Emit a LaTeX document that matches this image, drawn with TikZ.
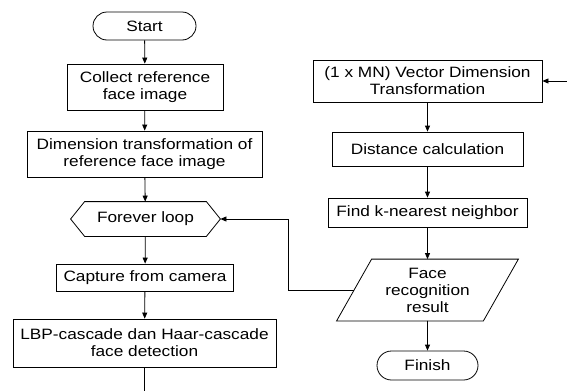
\documentclass[tikz,border=0pt]{standalone}
\usepackage{fontspec}
\setmainfont{Liberation Sans}[FakeStretch=1.15]
\usetikzlibrary{shapes.misc,arrows.meta}
\begin{document}
\begin{tikzpicture}[x=1pt,y=-1pt,
  every node/.style={font=\fontsize{15}{17}\selectfont, align=center, inner sep=0pt, line width=0.8pt},
  box/.style={draw, rectangle},
  term/.style={draw, rounded rectangle},
  plain/.style={rectangle},
  arr/.style={line width=0.8pt, -{Triangle[length=6pt,width=5pt]}},
  ln/.style={line width=0.8pt}]
\useasboundingbox (0,0) rectangle (567,391);
% left column
\node[term, minimum width=103pt, minimum height=28pt] (start) at (144.5,26) {Start};
\node[box, minimum width=156pt, minimum height=46pt] (collect) at (145,87) {Collect reference\\face image};
\node[box, minimum width=235pt, minimum height=46pt] (dim) at (144.5,154) {Dimension transformation of\\reference face image};
\node[plain, minimum width=149pt, minimum height=34pt] (loop) at (145.5,219) {Forever loop};
\draw[ln] (loop.west) -- ([xshift=14pt]loop.north west) -- ([xshift=-14pt]loop.north east) -- (loop.east)
  -- ([xshift=-14pt]loop.south east) -- ([xshift=14pt]loop.south west) -- cycle;
\node[box, minimum width=177pt, minimum height=27pt] (cap) at (145,277.5) {Capture from camera};
\node[box, minimum width=263pt, minimum height=48pt] (lbp) at (144.5,343) {LBP-cascade dan Haar-cascade\\face detection};
\coordinate (bot) at (144.5,391);
% right column
\node[box, minimum width=229pt, minimum height=42pt] (vec) at (427.5,81) {(1 x MN) Vector Dimension\\Transformation};
\node[box, minimum width=191pt, minimum height=34pt] (dist) at (427.5,149) {Distance calculation};
\node[box, minimum width=199pt, minimum height=29pt] (knn) at (427.5,212.5) {Find k-nearest neighbor};
\node[plain, minimum width=181pt, minimum height=61pt] (res) at (427.5,290) {Face\\recognition\\result};
\draw[ln] ([xshift=35pt]res.north west) -- (res.north east) -- ([xshift=-35pt]res.south east) -- (res.south west) -- cycle;
\node[term, minimum width=101pt, minimum height=29pt] (fin) at (427.5,365.5) {Finish};
\coordinate (inR) at (567,81);
\coordinate (resL) at ([xshift=17.5pt]res.west);
\coordinate (bend1) at (288,290);
\coordinate (bend2) at (288,219);
% connectors
\draw[arr] (start) -- (collect);
\draw[arr] (collect) -- (dim);
\draw[arr] (dim) -- (loop);
\draw[arr] (loop) -- (cap);
\draw[arr] (cap) -- (lbp);
\draw[ln] (lbp) -- (bot);
\draw[arr] (inR) -- (vec);
\draw[arr] (vec) -- (dist);
\draw[arr] (dist) -- (knn);
\draw[arr] (knn) -- (res.north);
\draw[arr] (res.south) -- (fin);
\draw[arr] (resL) -- (bend1) -- (bend2) -- (loop.east);
\end{tikzpicture}
\end{document}
